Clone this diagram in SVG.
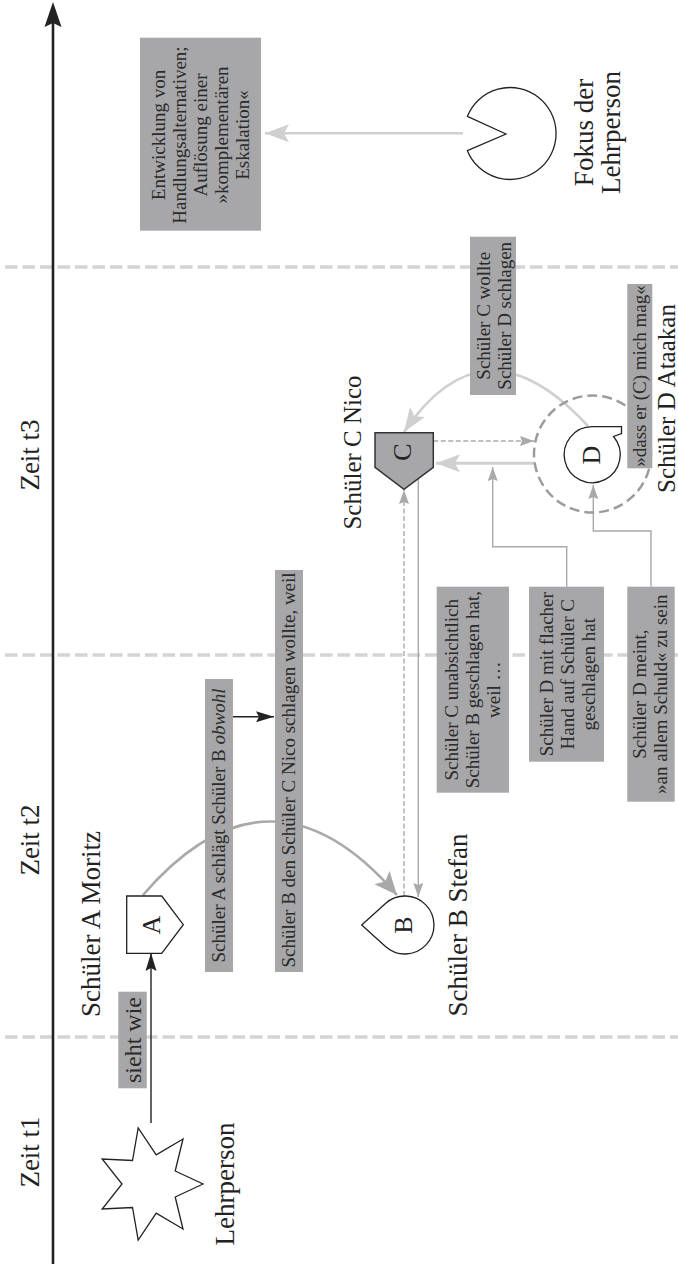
<svg xmlns="http://www.w3.org/2000/svg" width="678" height="1264" viewBox="0 0 678 1264">
<style>
text{font-family:"Liberation Serif","Times New Roman",serif;fill:#222}
.time{font-size:27px}
.lbl{font-size:27px}
.lbl2{font-size:25px}
.node{font-size:26px}
.bt{font-size:19px;fill:#2a2a2a}
.box{fill:#a7a7a9}
.sep{stroke:#d4d4d4;stroke-width:3.5;stroke-dasharray:12.5 5;fill:none}
.shape{fill:#fff;stroke:#222;stroke-width:1.3}
.thin{stroke:#a9a9a9;stroke-width:1.4;fill:none}
.dash{stroke:#aaaaaa;stroke-width:1.4;stroke-dasharray:5 2.5;fill:none}
.light{stroke:#d0d0d0;fill:none}
</style>
<defs>
<marker id="mBlack" markerUnits="userSpaceOnUse" markerWidth="20" markerHeight="12" refX="18" refY="6" orient="auto"><path d="M0,0.5 L18,6 L0,11.5 L3,6 Z" fill="#222"/></marker>
<marker id="mGrayBig" markerUnits="userSpaceOnUse" markerWidth="24" markerHeight="20" refX="23" refY="10" orient="auto"><path d="M0,0 L23,10 L0,20 L5,10 Z" fill="#a9a9a9"/></marker>
<marker id="mGraySmall" markerUnits="userSpaceOnUse" markerWidth="15" markerHeight="10" refX="14" refY="5" orient="auto"><path d="M0,0 L14,5 L0,10 L2,5 Z" fill="#a9a9a9"/></marker>
<marker id="mLight" markerUnits="userSpaceOnUse" markerWidth="25" markerHeight="20" refX="24" refY="10" orient="auto"><path d="M0,1 L24,10 L0,19 L5,10 Z" fill="#d0d0d0"/></marker>
</defs>
<rect width="678" height="1264" fill="#fff"/>

<g id="timeline">
<line class="sep" x1="5" y1="267" x2="678" y2="267"/>
<line class="sep" x1="5" y1="655" x2="678" y2="655"/>
<line class="sep" x1="5" y1="1037" x2="678" y2="1037"/>
<line x1="53" y1="1264" x2="53" y2="22" stroke="#222" stroke-width="2.6"/>
<path d="M53,2 L61.5,27 L53,23 L44.5,27 Z" fill="#222"/>
<text class="time" transform="translate(39,455) rotate(-90)" text-anchor="middle">Zeit t3</text>
<text class="time" transform="translate(39,840) rotate(-90)" text-anchor="middle">Zeit t2</text>
<text class="time" transform="translate(39,1152) rotate(-90)" text-anchor="middle">Zeit t1</text>
</g>

<g id="connectors">
<line x1="151" y1="1123" x2="151" y2="953" stroke="#222" stroke-width="1.4" marker-end="url(#mBlack)"/>
<line x1="233" y1="716.7" x2="274" y2="716.7" stroke="#222" stroke-width="1.4" marker-end="url(#mBlack)"/>
<path d="M143,895 Q270,748 397,895" stroke="#a9a9a9" stroke-width="2.6" fill="none" marker-end="url(#mGrayBig)"/>
<line class="dash" x1="404" y1="896" x2="404" y2="490" marker-end="url(#mGraySmall)"/>
<line class="thin" x1="418.3" y1="478.6" x2="418.3" y2="897" marker-end="url(#mGraySmall)"/>
<line class="dash" x1="433.3" y1="441" x2="534" y2="441" marker-end="url(#mGraySmall)"/>
<line class="light" stroke-width="3" x1="535" y1="463.3" x2="436" y2="463.3" marker-end="url(#mLight)"/>
<path class="light" stroke-width="2.6" d="M588,426 Q484,313 404,432" marker-end="url(#mLight)"/>
<line class="light" stroke-width="2.6" x1="463" y1="133.3" x2="265" y2="133.3" marker-end="url(#mLight)"/>
<polyline class="thin" points="566.7,586.7 566.7,546.7 492.7,546.7 492.7,467" marker-end="url(#mGraySmall)"/>
<polyline class="thin" points="651,586.7 651,531 593.3,531 593.3,485" marker-end="url(#mGraySmall)"/>
</g>

<g id="lehrperson">
<path class="shape" d="M203,1184 L175.2,1197 L183,1229 L156.2,1213.2 L138.2,1240.1 L132.5,1207.5 L102.2,1209 L122,1184 L102.2,1159 L132.5,1160.5 L138.2,1127.9 L156.2,1154.8 L183,1139 L175.2,1171 Z"/>
<text class="lbl" transform="translate(234,1184) rotate(-90)" text-anchor="middle">Lehrperson</text>
</g>

<g id="schueler-a">
<path class="shape" d="M126.7,896 L161.7,896 L183.3,924.7 L161.7,953.3 L126.7,953.3 Z"/>
<text class="node" transform="translate(160,925) rotate(-90)" text-anchor="middle">A</text>
<text class="lbl" transform="translate(100,924) rotate(-90)" text-anchor="middle">Schüler A Moritz</text>
</g>

<g id="schueler-b">
<path class="shape" d="M361.7,925 L385.5,903.5 A29,29 0 1,1 385.5,946.5 Z"/>
<text class="node" transform="translate(412,925) rotate(-90)" text-anchor="middle">B</text>
<text class="lbl" transform="translate(467,925) rotate(-90)" text-anchor="middle">Schüler B Stefan</text>
</g>

<g id="schueler-c">
<path d="M375,432.7 L433.3,432.7 L433.3,467.3 L404,489.3 L375,467.3 Z" fill="#a7a7a9" stroke="#333" stroke-width="1.5"/>
<text class="node" transform="translate(411,452) rotate(-90)" text-anchor="middle">C</text>
<text class="lbl2" transform="translate(361,452.5) rotate(-90)" text-anchor="middle">Schüler C Nico</text>
</g>

<g id="schueler-d">
<circle cx="592.5" cy="454" r="58.5" fill="none" stroke="#9c9c9c" stroke-width="2.5" stroke-dasharray="10 5"/>
<path class="shape" d="M592.5,426.7 L621.5,426.7 L621.5,433.5 L613.5,436.5 A28,28 0 1,1 592.5,426.7 Z"/>
<text class="node" transform="translate(600,455) rotate(-90)" text-anchor="middle">D</text>
<text class="lbl2" transform="translate(674.5,398.5) rotate(-90)" text-anchor="middle">Schüler D Ataakan</text>
</g>

<g id="fokus">
<path class="shape" d="M506,134 L467.4,116.3 A46,46 0 1,1 467.4,150.7 Z"/>
<text class="lbl" transform="translate(593,132.5) rotate(-90)" text-anchor="middle"><tspan x="0" y="0">Fokus der</tspan><tspan x="0" y="27">Lehrperson</tspan></text>
</g>

<g id="label-entwicklung">
<rect class="box" x="140" y="37.7" width="121" height="193"/>
<text class="bt" transform="translate(165,135) rotate(-90)" text-anchor="middle"><tspan x="0" y="0">Entwicklung von</tspan><tspan x="0" y="21">Handlungsalternativen;</tspan><tspan x="0" y="42">Auflösung einer</tspan><tspan x="0" y="63">»komplementären</tspan><tspan x="0" y="84">Eskalation«</tspan></text>
</g>

<g id="label-sieht">
<rect class="box" x="118.3" y="991.7" width="28.4" height="96.6"/>
<text class="bt" style="font-size:24px" transform="translate(141,1040) rotate(-90)" text-anchor="middle">sieht wie</text>
</g>

<g id="label-schlaegt">
<rect class="box" x="205" y="679" width="28" height="293"/>
<text class="bt" transform="translate(225,825.5) rotate(-90)" text-anchor="middle">Schüler A schlägt Schüler B <tspan font-style="italic">obwohl</tspan></text>
</g>

<g id="label-weil">
<rect class="box" x="275" y="570" width="28" height="402"/>
<text class="bt" transform="translate(295,770) rotate(-90)" text-anchor="middle">Schüler B den Schüler C Nico schlagen wollte, weil</text>
</g>

<g id="label-unabsichtlich">
<rect class="box" x="436.7" y="586.7" width="72.3" height="206"/>
<text class="bt" transform="translate(458,689.7) rotate(-90)" text-anchor="middle"><tspan x="0" y="0">Schüler C unabsichtlich</tspan><tspan x="0" y="21">Schüler B geschlagen hat,</tspan><tspan x="0" y="42">weil …</tspan></text>
</g>

<g id="label-flach">
<rect class="box" x="529" y="586.7" width="75" height="175"/>
<text class="bt" transform="translate(552.5,674.2) rotate(-90)" text-anchor="middle"><tspan x="0" y="0">Schüler D mit flacher</tspan><tspan x="0" y="21">Hand auf Schüler C</tspan><tspan x="0" y="42">geschlagen hat</tspan></text>
</g>

<g id="label-meint">
<rect class="box" x="627.3" y="586.7" width="47.4" height="215"/>
<text class="bt" transform="translate(646,694.2) rotate(-90)" text-anchor="middle"><tspan x="0" y="0">Schüler D meint,</tspan><tspan x="0" y="21">»an allem Schuld« zu sein</tspan></text>
</g>

<g id="label-wollte">
<rect class="box" x="470" y="236.7" width="46" height="158.3"/>
<text class="bt" transform="translate(490,315.8) rotate(-90)" text-anchor="middle"><tspan x="0" y="0">Schüler C wollte</tspan><tspan x="0" y="21">Schüler D schlagen</tspan></text>
</g>

<g id="label-mag">
<rect class="box" x="627.3" y="284" width="25" height="184.3"/>
<text class="bt" transform="translate(646,376) rotate(-90)" text-anchor="middle">»dass er (C) mich mag«</text>
</g>
</svg>
